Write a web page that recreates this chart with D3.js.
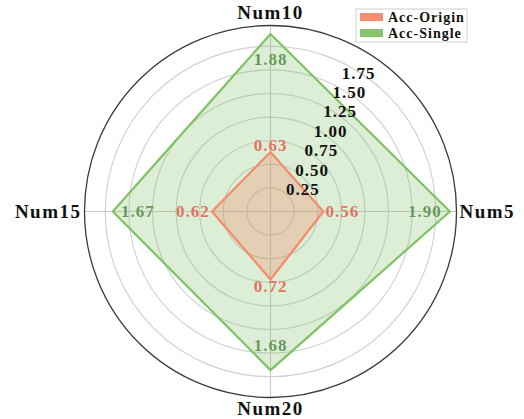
<!DOCTYPE html>
<html>
<head>
<meta charset="utf-8">
<script src="https://cdn.jsdelivr.net/npm/d3@7"></script>
<style>
  html, body { margin: 0; padding: 0; background: #ffffff; }
  svg { display: block; }
  text { font-family: "Liberation Serif", "DejaVu Serif", serif; font-weight: bold; }
</style>
</head>
<body>
<svg id="chart" width="524" height="419"></svg>
<script>
// ---- data ----
const categories = ["Num5", "Num10", "Num15", "Num20"];
const seriesNames = ["Acc-Origin", "Acc-Single"];
const accOrigin = [0.56, 0.63, 0.62, 0.72];
const accSingle = [1.90, 1.88, 1.67, 1.68];
const radialTicks = [0.25, 0.50, 0.75, 1.00, 1.25, 1.50, 1.75];
const rMax = 1.97;

// ---- layout ----
const cx = 270.5, cy = 211.5, R = 186;
const colors = { origin: "#f4896b", single: "#7fc263" };
const textColors = { origin: "#df735d", single: "#689857" };

const svg = d3.select("#chart");
const g = svg.append("g").attr("transform", `translate(${cx},${cy})`);

const r = d3.scaleLinear().domain([0, rMax]).range([0, R]);
// category angles in d3 radial convention (0 at top, clockwise): right, top, left, bottom
const angleScale = d3.scaleLinear().domain([0, categories.length]).range([Math.PI / 2, Math.PI / 2 - 2 * Math.PI]);
const angleOf = i => angleScale(i);

// grid circles
g.selectAll("circle.grid").data(radialTicks).enter().append("circle")
  .attr("class", "grid")
  .attr("r", d => r(d))
  .attr("fill", "none")
  .attr("stroke", "#cfcfcf")
  .attr("stroke-width", 1.1);

// spokes
g.selectAll("line.spoke").data(categories).enter().append("line")
  .attr("x1", 0).attr("y1", 0)
  .attr("x2", (d, i) => R * Math.sin(angleOf(i)))
  .attr("y2", (d, i) => -R * Math.cos(angleOf(i)))
  .attr("stroke", "#c8c8c8")
  .attr("stroke-width", 1.1);

// polygons
const radial = d3.lineRadial()
  .angle((d, i) => angleOf(i))
  .radius(d => r(d))
  .curve(d3.curveLinearClosed);

g.append("path").datum(accSingle)
  .attr("d", radial)
  .attr("fill", colors.single).attr("fill-opacity", 0.27)
  .attr("stroke", colors.single).attr("stroke-width", 2.2)
  .attr("stroke-linejoin", "miter");

g.append("path").datum(accOrigin)
  .attr("d", radial)
  .attr("fill", colors.origin).attr("fill-opacity", 0.3)
  .attr("stroke", colors.origin).attr("stroke-width", 2.2)
  .attr("stroke-linejoin", "miter");

// outer frame
g.append("circle").attr("r", R)
  .attr("fill", "none").attr("stroke", "#3a3a3a").attr("stroke-width", 1.3);

// radial tick labels (along a ray up-right)
const tickDir = { x: 0.394, y: -0.824 };
g.selectAll("text.rtick").data(radialTicks).enter().append("text")
  .attr("class", "rtick")
  .attr("x", d => tickDir.x * r(d) + 23)
  .attr("y", d => tickDir.y * r(d) - 2.3)
  .attr("text-anchor", "middle")
  .attr("dominant-baseline", "central")
  .attr("font-size", 17)
  .attr("letter-spacing", 1)
  .attr("fill", "#111")
  .text(d => d.toFixed(2));

// value labels
function valueLabels(values, cls, offsetFn) {
  g.selectAll("text." + cls).data(values).enter().append("text")
    .attr("class", cls)
    .attr("x", (d, i) => (r(d) + offsetFn(i)) * Math.sin(angleOf(i)))
    .attr("y", (d, i) => -(r(d) + offsetFn(i)) * Math.cos(angleOf(i)))
    .attr("text-anchor", "middle")
    .attr("dominant-baseline", "central")
    .attr("font-size", 17)
    .attr("letter-spacing", 1)
    .attr("fill", textColors[cls])
    .attr("stroke", "#ffffff").attr("stroke-width", 0.6).attr("stroke-opacity", 0.5)
    .attr("paint-order", "stroke")
    .text(d => d.toFixed(2));
}
valueLabels(accOrigin, "origin", i => (i % 2 === 0 ? 19 : 7));
valueLabels(accSingle, "single", i => -25);

// category labels
const catPos = [
  { x: R + 3, y: 0, anchor: "start" },
  { x: 0, y: -R - 13, anchor: "middle" },
  { x: -R - 3, y: 0, anchor: "end" },
  { x: 0, y: R + 11, anchor: "middle" }
];
g.selectAll("text.cat").data(categories).enter().append("text")
  .attr("class", "cat")
  .attr("x", (d, i) => catPos[i].x)
  .attr("y", (d, i) => catPos[i].y)
  .attr("text-anchor", (d, i) => catPos[i].anchor)
  .attr("dominant-baseline", "central")
  .attr("font-size", 19)
  .attr("letter-spacing", 1.5)
  .attr("fill", "#111")
  .text(d => d);

// legend
const lg = svg.append("g").attr("transform", "translate(356,9)");
lg.append("rect").attr("x", 0).attr("y", 0).attr("width", 111).attr("height", 33)
  .attr("fill", "#ffffff").attr("stroke", "#d0d0d0").attr("stroke-width", 1);
const legColors = [colors.origin, colors.single];
const li = lg.selectAll("g.item").data(seriesNames).enter().append("g")
  .attr("transform", (d, i) => `translate(4,${4 + i * 16})`);
li.append("rect").attr("width", 23).attr("height", 8)
  .attr("fill", (d, i) => legColors[i]).attr("fill-opacity", 0.95);
li.append("text").attr("x", 28).attr("y", 4.5)
  .attr("dominant-baseline", "central")
  .attr("font-size", 14).attr("letter-spacing", 1)
  .attr("fill", "#111")
  .text(d => d);
</script>
</body>
</html>
